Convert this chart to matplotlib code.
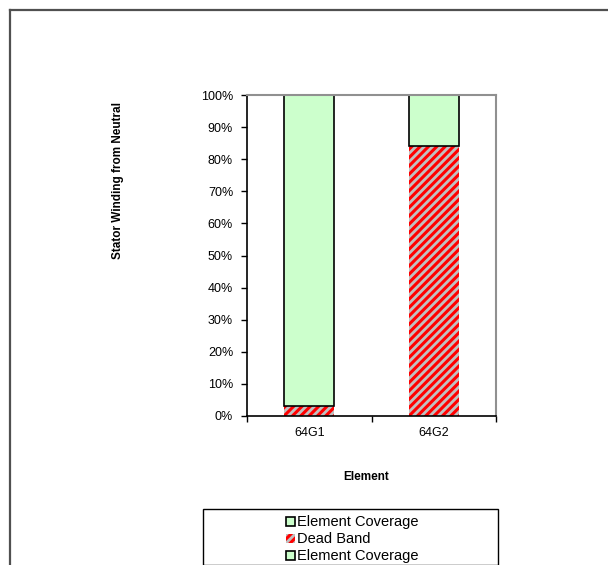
import matplotlib
matplotlib.use("Agg")
import matplotlib.pyplot as plt
from matplotlib.patches import Rectangle
from matplotlib.lines import Line2D
from matplotlib.ticker import FuncFormatter
import numpy as np

# data (percent of stator winding)
elements = ["64G1", "64G2"]
coverage_low = [0, 0]
dead_band = [3, 84]
coverage_top = [97, 16]
series_names = ["Element Coverage", "Dead Band", "Element Coverage"]

plt.rcParams['font.family'] = ['Liberation Sans', 'DejaVu Sans']
plt.rcParams['hatch.linewidth'] = 2.2

W, H = 608, 565
fig = plt.figure(figsize=(W / 100, H / 100), dpi=100)

# plot area in pixel coords
left, right, top, bottom = 247, 496, 95, 416
ax = fig.add_axes([left / W, 1 - bottom / H, (right - left) / W, (bottom - top) / H])

x = np.arange(len(elements))
bw = 0.4
green = '#CCFFCC'

b1 = ax.bar(x, coverage_low, bw, color=green, edgecolor='black', linewidth=1.2)
b2 = ax.bar(x, dead_band, bw, bottom=coverage_low, facecolor='#C0C0C0',
            edgecolor='#FF0000', hatch='////', linewidth=0)
base3 = [a + b for a, b in zip(coverage_low, dead_band)]
b3 = ax.bar(x, coverage_top, bw, bottom=base3, color=green, edgecolor='black', linewidth=1.2)

ax.set_xlim(-0.5, 1.5)
ax.set_ylim(0, 100)
ax.set_yticks(np.arange(0, 101, 10))
ax.yaxis.set_major_formatter(FuncFormatter(lambda v, p: "{:d}%".format(int(v))))
ax.set_xticks(x)
ax.set_xticklabels(elements)
ax.set_xticks([-0.5, 0.5, 1.5], minor=True)
ax.tick_params(axis='x', which='major', length=0, pad=8, labelsize=9)
ax.tick_params(axis='x', which='minor', length=4, direction='out', width=1)
ax.tick_params(axis='y', length=4, direction='out', width=1, pad=6, labelsize=9)

for s in ['left', 'bottom']:
    ax.spines[s].set_color('black')
    ax.spines[s].set_linewidth(1.2)
for s in ['top', 'right']:
    ax.spines[s].set_color('#909090')
    ax.spines[s].set_linewidth(1.5)

fig.text(118 / W, 1 - 180 / H, "Stator Winding from Neutral", rotation=90,
         ha='center', va='center', fontsize=8.5, fontweight='bold')
fig.text(366 / W, 1 - 477 / H, "Element", ha='center', va='center',
         fontsize=8.5, fontweight='bold')

# outer chart frame
fig.add_artist(Line2D([10 / W, 10 / W], [0, 1 - 10 / H], color='#505050', lw=1.6,
                      transform=fig.transFigure))
fig.add_artist(Line2D([10 / W, 1], [1 - 10 / H, 1 - 10 / H], color='#505050', lw=1.6,
                      transform=fig.transFigure))

# legend box
fig.add_artist(Rectangle((203 / W, 0), (498 - 203) / W, 1 - 509 / H, fill=False,
                         edgecolor='black', lw=1.0, transform=fig.transFigure))
leg = fig.legend([b1, b2, b3], series_names, loc='upper left',
                 bbox_to_anchor=(277 / W, 1 - 506 / H), frameon=False,
                 fontsize=10.5, handlelength=0.6, handleheight=0.6,
                 handletextpad=0.15, labelspacing=0.2, borderpad=0.15)

fig.savefig("out.png", dpi=100)
